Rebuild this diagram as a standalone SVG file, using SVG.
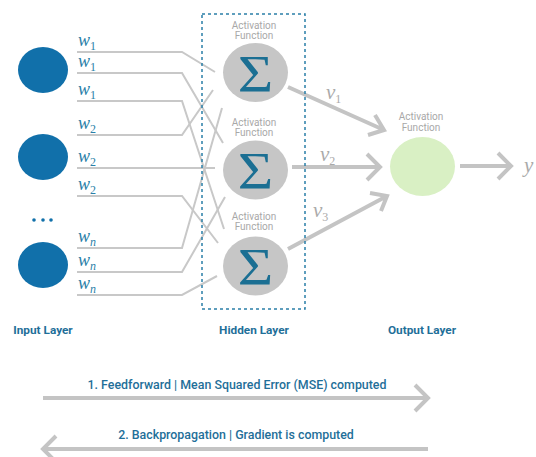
<svg xmlns="http://www.w3.org/2000/svg" width="536" height="457" viewBox="0 0 536 457">
<style>
.in{fill:#1170aa}
.wl{fill:none;stroke:#c8c8c8;stroke-width:2}
.sig{fill:#c6c6c6}
.sg{font-family:"Liberation Serif",serif;font-size:53px;fill:#1b6f93;text-anchor:middle}
.af{font-family:"Roboto","Liberation Sans",sans-serif;font-size:10px;fill:#a8a8a8;text-anchor:middle}
.w{font-family:"Liberation Serif",serif;font-style:italic;font-size:18px;fill:#2a7fa8}
.sub{font-size:12px;font-style:normal}
.subi{font-size:12px;font-style:italic}
.v{font-family:"Liberation Serif",serif;font-style:italic;font-size:21px;fill:#aaaaaa}
.arr{fill:none;stroke:#c4c4c4;stroke-width:4;stroke-linecap:butt}
.lay{font-family:"Roboto","Liberation Sans",sans-serif;font-weight:bold;font-size:11.8px;fill:#1f6f99;text-anchor:middle}
.cap{font-family:"Roboto","Liberation Sans",sans-serif;font-weight:500;font-size:12.4px;fill:#1f6f99;text-anchor:middle}
</style>
<rect width="536" height="457" fill="#ffffff"/>
<g id="connectors">
<path class="wl" d="M77,52 H182 L215,72"/>
<path class="wl" d="M77,73 H182 L223,143"/>
<path class="wl" d="M77,101 H182 L224,229"/>
<path class="wl" d="M77,135 H182 L213,90"/>
<path class="wl" d="M77,168 H215"/>
<path class="wl" d="M77,196 H182 L218,243"/>
<path class="wl" d="M77,248 H182 L222,108"/>
<path class="wl" d="M77,272 H182 L225,197"/>
<path class="wl" d="M77,295 H182 L217,276"/>
<path class="arr" d="M288,87 L384,130 M375,115 L384,130 L368,135"/>
<path class="arr" d="M292,167 H380 M367,154 L380,167 L367,180"/>
<path class="arr" d="M288,249 L387,196 M370,193 L387,196 L381,211"/>
<path class="arr" d="M460,166 H511 M498,153 L511,166 L498,179"/>
<path class="arr" d="M43,398 H428 M415,385 L428,398 L415,411"/>
<path class="arr" d="M428,449 H43 M56,436 L43,449 L56,462"/>
</g>
<g id="weights">
<text class="w" x="78" y="46">w<tspan class="sub" dy="4">1</tspan></text>
<text class="w" x="78" y="67">w<tspan class="sub" dy="4">1</tspan></text>
<text class="w" x="78" y="95">w<tspan class="sub" dy="4">1</tspan></text>
<text class="w" x="78" y="129">w<tspan class="sub" dy="4">2</tspan></text>
<text class="w" x="78" y="162">w<tspan class="sub" dy="4">2</tspan></text>
<text class="w" x="78" y="190">w<tspan class="sub" dy="4">2</tspan></text>
<text class="w" x="78" y="242">w<tspan class="subi" dy="4">n</tspan></text>
<text class="w" x="78" y="266">w<tspan class="subi" dy="4">n</tspan></text>
<text class="w" x="78" y="289">w<tspan class="subi" dy="4">n</tspan></text>
<text class="v" x="326" y="99">v<tspan class="sub" font-size="13" dy="4">1</tspan></text>
<text class="v" x="320" y="161">v<tspan class="sub" font-size="13" dy="4">2</tspan></text>
<text class="v" x="313" y="217">v<tspan class="sub" font-size="13" dy="4">3</tspan></text>
</g>
<g id="input1"><ellipse class="in" cx="43" cy="70" rx="25" ry="23"/></g>
<g id="input2"><ellipse class="in" cx="43" cy="157" rx="25" ry="23"/></g>
<g id="dots"><circle class="in" cx="34" cy="220" r="1.8"/><circle class="in" cx="43" cy="220" r="1.8"/><circle class="in" cx="51" cy="220" r="1.8"/></g>
<g id="input3"><ellipse class="in" cx="43" cy="265" rx="25" ry="23"/></g>
<g id="hidden-box"><rect x="202" y="14" width="103" height="295" fill="none" stroke="#2a7fa8" stroke-width="1.5" stroke-dasharray="3,3"/></g>
<g id="hidden1">
<text class="af" x="254" y="29">Activation</text><text class="af" x="254" y="39">Function</text>
<ellipse class="sig" cx="255.5" cy="72.5" rx="32.5" ry="29.5"/>
<text class="sg" transform="translate(255.5,92) scale(1.15,1)">Σ</text>
</g>
<g id="hidden2">
<text class="af" x="254" y="126">Activation</text><text class="af" x="254" y="136">Function</text>
<ellipse class="sig" cx="255.5" cy="170" rx="32.5" ry="29.5"/>
<text class="sg" transform="translate(255.5,189) scale(1.15,1)">Σ</text>
</g>
<g id="hidden3">
<text class="af" x="254" y="220">Activation</text><text class="af" x="254" y="230">Function</text>
<ellipse class="sig" cx="255.5" cy="266" rx="32.5" ry="29.5"/>
<text class="sg" transform="translate(255.5,285) scale(1.15,1)">Σ</text>
</g>
<g id="output">
<text class="af" x="421" y="120">Activation</text><text class="af" x="421" y="131">Function</text>
<ellipse cx="422.5" cy="166.5" rx="32.5" ry="29.5" fill="#d9f0c4"/>
</g>
<g id="y-label"><text class="v" x="524" y="172">y</text></g>
<g id="layers">
<text class="lay" x="43" y="334">Input Layer</text>
<text class="lay" x="254" y="334">Hidden Layer</text>
<text class="lay" x="422" y="334">Output Layer</text>
</g>
<g id="captions">
<text class="cap" x="237" y="389">1. Feedforward | Mean Squared Error (MSE) computed</text>
<text class="cap" x="236" y="439">2. Backpropagation | Gradient is computed</text>
</g>
</svg>
